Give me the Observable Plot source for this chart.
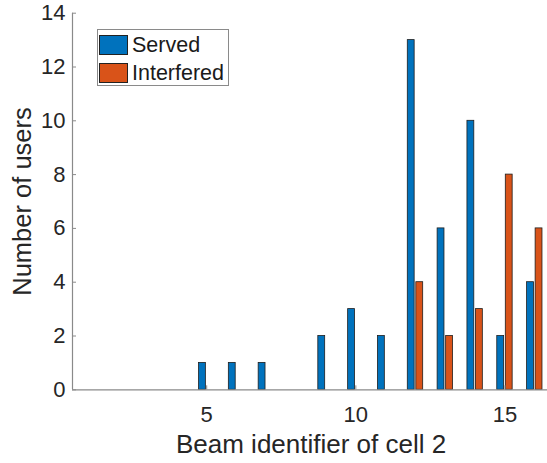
<!DOCTYPE html>
<html>
<head>
<meta charset="utf-8">
<script src="https://cdn.jsdelivr.net/npm/d3@7"></script>
<script src="https://cdn.jsdelivr.net/npm/@observablehq/plot@0.6"></script>
<style>
  html, body { margin: 0; padding: 0; background: #fff; }
  #wrap { position: relative; width: 547px; height: 463px; overflow: hidden; font-family: "Liberation Sans", Arial, sans-serif; }
  #legend { position: absolute; left: 97px; top: 29px; width: 132px; height: 57px; border: 1px solid #8a8a8a; background: #fff; box-sizing: border-box; }
  .row { position: absolute; left: 1px; height: 22px; display: flex; align-items: center; font-size: 21.5px; color: #1a1a1a; }
  .sw { width: 29px; height: 20px; border: 1px solid #222; box-sizing: border-box; margin-right: 4px; }
</style>
</head>
<body>
<div id="wrap"></div>
<script>
const beams = [1, 2, 3, 4, 5, 6, 7, 8, 9, 10, 11, 12, 13, 14, 15, 16];
const served = [0, 0, 0, 0, 1, 1, 1, 0, 2, 3, 2, 13, 6, 10, 2, 4];
const interfered = [0, 0, 0, 0, 0, 0, 0, 0, 0, 0, 0, 4, 2, 3, 8, 6];
const seriesNames = ["Served", "Interfered"];
const seriesColors = ["#0072BD", "#D95319"];
const xTicks = [5, 10, 15];
const yTicks = [0, 2, 4, 6, 8, 10, 12, 14];
const xLabel = "Beam identifier of cell 2";
const yLabel = "Number of users";

(function () {
  const offset = 0.143, bw = 0.23;
  const rows = [];
  beams.forEach((b, i) => {
    rows.push({beam: b, value: served[i], series: seriesNames[0], pos: b - offset});
    rows.push({beam: b, value: interfered[i], series: seriesNames[1], pos: b + offset});
  });

  const W = 547, H = 463;
  const pL = 72, pR = 549.2, pT = 12.7, pB = 389.3;
  const axisColor = "#8a8a8a";
  const textColor = "#262626";

  const plot = Plot.plot({
    width: W, height: H,
    marginLeft: pL, marginRight: W - pR, marginTop: pT, marginBottom: H - pB,
    style: {fontFamily: "'Liberation Sans', Arial, sans-serif", background: "transparent", overflow: "visible"},
    x: {type: "linear", domain: [0.5, 16.5], range: [pL, pR]},
    y: {domain: [0, 14], range: [pB, pT]},
    color: {domain: seriesNames, range: seriesColors},
    marks: [
      Plot.rectY(rows, {x1: d => d.pos - bw / 2, x2: d => d.pos + bw / 2, y1: 0, y2: "value", fill: "series", stroke: "#1e1e1e", strokeWidth: 0.8}),
      Plot.ruleY([0], {stroke: axisColor, strokeWidth: 1.2}),
      Plot.ruleX([0.5], {y1: 0, y2: 14, stroke: axisColor, strokeWidth: 1.2}),
      Plot.axisY(yTicks, {tickSize: -4, text: null, stroke: axisColor, label: null}),
      Plot.axisY(yTicks, {tickSize: 0, tickPadding: 7, fontSize: 22, fill: textColor, label: null}),
      Plot.axisX(xTicks, {tickSize: -4, text: null, stroke: axisColor, label: null}),
      Plot.axisX(xTicks, {tickSize: 0, tickPadding: 17, fontSize: 22, fill: textColor, label: null}),
      Plot.text([xLabel], {frameAnchor: "bottom", lineAnchor: "bottom", dy: 63, fontSize: 26, fill: textColor}),
      Plot.text([yLabel], {frameAnchor: "left", textAnchor: "middle", lineAnchor: "middle", dx: -50, rotate: -90, fontSize: 25.5, fill: textColor})
    ]
  });
  const wrap = document.getElementById("wrap");
  wrap.appendChild(plot);

  const legend = document.createElement("div");
  legend.id = "legend";
  seriesNames.forEach((name, i) => {
    const row = document.createElement("div");
    row.className = "row";
    row.style.top = (i === 0 ? 4 : 32) + "px";
    const sw = document.createElement("div");
    sw.className = "sw";
    sw.style.background = seriesColors[i];
    const t = document.createElement("span");
    t.textContent = name;
    row.appendChild(sw);
    row.appendChild(t);
    legend.appendChild(row);
  });
  wrap.appendChild(legend);
})();
</script>
</body>
</html>
